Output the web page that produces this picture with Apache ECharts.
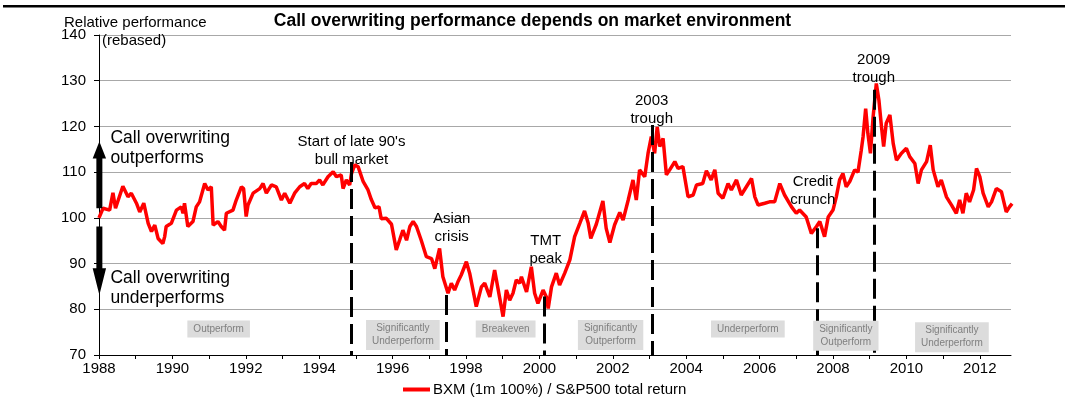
<!DOCTYPE html>
<html>
<head>
<meta charset="utf-8">
<script src="https://cdn.jsdelivr.net/npm/echarts@6/dist/echarts.min.js"></script>
<style>
html,body{margin:0;padding:0;background:#fff;}
#c{width:1065px;height:403px;}
</style>
</head>
<body>
<div id="c"></div>
<script>
// ---- data ----
const years = [
1988.00,1988.11,1988.29,1988.38,1988.45,1988.65,1988.79,1988.88,1989.02,1989.11,
1989.22,1989.34,1989.43,1989.52,1989.61,1989.74,1989.79,1989.83,1989.97,1990.11,
1990.24,1990.29,1990.33,1990.42,1990.56,1990.65,1990.74,1990.88,1990.97,1991.06,
1991.11,1991.24,1991.33,1991.42,1991.47,1991.65,1991.74,1991.88,1991.94,1992.01,
1992.06,1992.20,1992.38,1992.47,1992.56,1992.70,1992.83,1992.97,1993.06,1993.20,
1993.33,1993.47,1993.60,1993.69,1993.78,1993.92,1994.01,1994.10,1994.24,1994.38,
1994.47,1994.60,1994.65,1994.74,1994.83,1994.88,1994.97,1995.06,1995.20,1995.33,
1995.42,1995.52,1995.63,1995.69,1995.83,1995.97,1996.10,1996.19,1996.28,1996.38,
1996.47,1996.56,1996.65,1996.78,1996.92,1997.06,1997.15,1997.28,1997.37,1997.51,
1997.60,1997.69,1997.78,1997.87,1998.01,1998.10,1998.28,1998.42,1998.51,1998.65,
1998.78,1998.92,1999.01,1999.10,1999.19,1999.28,1999.37,1999.46,1999.51,1999.65,
1999.78,1999.87,1999.96,2000.10,2000.19,2000.24,2000.33,2000.46,2000.55,2000.69,
2000.83,2000.96,2001.10,2001.23,2001.33,2001.40,2001.55,2001.73,2001.82,2001.92,
2002.05,2002.19,2002.28,2002.42,2002.55,2002.64,2002.73,2002.87,2002.96,2003.05,
2003.14,2003.21,2003.28,2003.37,2003.46,2003.55,2003.69,2003.78,2003.91,2004.05,
2004.19,2004.28,2004.45,2004.55,2004.59,2004.68,2004.78,2004.87,2005.00,2005.14,
2005.23,2005.37,2005.50,2005.64,2005.78,2005.87,2005.96,2006.14,2006.27,2006.41,
2006.55,2006.68,2006.87,2007.00,2007.09,2007.27,2007.41,2007.55,2007.64,2007.77,
2007.87,2008.00,2008.09,2008.18,2008.27,2008.36,2008.46,2008.59,2008.68,2008.77,
2008.82,2008.89,2008.95,2009.02,2009.09,2009.18,2009.25,2009.32,2009.38,2009.45,
2009.55,2009.64,2009.73,2009.86,2010.00,2010.09,2010.23,2010.32,2010.41,2010.55,
2010.65,2010.73,2010.86,2010.95,2011.09,2011.23,2011.36,2011.45,2011.54,2011.63,
2011.72,2011.83,2011.91,2012.00,2012.09,2012.23,2012.32,2012.45,2012.59,2012.72,
2012.81,2012.88
];
const bxmRelative = [
100.0,102.1,101.7,105.5,102.1,106.9,104.6,105.4,103.2,101.3,
103.2,98.8,97.0,98.4,95.5,94.4,95.9,98.1,98.8,101.7,
102.4,101.0,103.2,98.1,99.2,102.4,103.5,107.5,106.1,106.8,
98.4,99.2,98.1,97.3,101.0,101.7,103.9,106.8,106.4,100.3,
102.8,105.4,106.4,107.5,105.4,107.2,106.8,103.9,105.4,103.2,
105.4,106.8,107.5,106.4,107.5,107.5,108.3,107.2,109.0,110.1,
109.0,109.4,106.4,108.3,107.2,109.7,111.6,111.2,107.9,106.1,
104.0,102.2,102.4,99.8,99.9,98.6,93.0,95.1,97.3,95.1,
98.1,99.2,98.1,95.1,91.5,91.1,88.9,93.3,87.1,83.5,
85.7,84.2,86.0,87.5,90.4,87.9,80.6,84.9,85.7,82.7,
88.6,82.4,78.4,84.2,82.0,83.5,86.4,85.7,87.1,83.8,
89.3,83.5,81.3,84.2,82.7,80.2,84.9,87.9,85.3,87.9,
90.8,95.9,98.8,101.5,98.8,95.5,98.6,103.7,97.7,94.6,
98.5,101.2,99.5,103.9,108.3,103.9,110.5,109.0,114.1,117.8,
114.1,119.9,115.6,117.4,109.4,110.5,112.3,110.8,111.2,104.6,
105.0,107.2,107.5,110.3,109.7,108.3,110.5,105.4,104.3,107.5,
106.1,108.3,105.0,106.8,108.6,104.6,102.8,103.2,103.5,103.5,
107.5,105.0,102.4,101.0,101.7,100.2,96.6,98.1,99.2,95.9,
100.2,101.7,104.6,108.3,109.7,106.8,108.0,110.5,110.0,114.8,
117.8,123.9,118.5,114.1,121.8,129.4,125.8,120.0,115.6,120.7,
122.5,116.3,112.6,114.1,115.2,113.4,111.9,107.5,110.5,112.3,
115.9,110.5,106.8,108.3,104.6,102.8,101.0,103.9,101.0,105.4,
103.5,106.1,110.8,109.0,105.4,102.4,103.5,106.4,105.7,101.3,
102.4,103.1
];
const yTicks = [70, 80, 90, 100, 110, 120, 130, 140];

// event markers: [year, top of dashed line]
const eventYears = [1994.88, 1997.45, 2000.14, 2003.08, 2007.56, 2009.12];
const eventTops  = [112.2, 83.1, 82.8, 120.3, 97.7, 128.0];

// event annotations
const eventLabels = ["Start of late 90's\nbull market", "Asian\ncrisis", "TMT\npeak", "2003\ntrough", "Credit\ncrunch", "2009\ntrough"];
const eventLabelX = [1994.88, 1997.61, 2000.17, 2003.06, 2007.45, 2009.11];
const eventLabelY = [114.7, 97.8, 93.0, 123.6, 105.9, 132.6];

// regime boxes
const regimeLabels = ["Outperform", "Significantly\nUnderperform", "Breakeven", "Significantly\nOutperform", "Underperform", "Significantly\nOutperform", "Significantly\nUnderperform"];
const regimeX = [1991.26, 1996.28, 1999.08, 2001.94, 2005.68, 2008.35, 2011.24];
const regimeY = [75.7, 74.4, 75.7, 74.4, 75.7, 74.2, 73.9];

// direction arrows (x, shaft start, head base, tip)
const arrowX = 1988.01;
const upArrow = [102.1, 113.0, 116.7];
const downArrow = [98.1, 89.0, 83.1];

// ---- chart ----
const FONT = 'Liberation Sans, Arial, sans-serif';
const chart = echarts.init(document.getElementById('c'), null, {renderer: 'canvas'});

const lineData = years.map((y, i) => [y, bxmRelative[i]]);

const eventLines = eventYears.map((x, i) => [
  {coord: [x, eventTops[i]]},
  {coord: [x, 70]}
]);

const annPoints = eventLabels.map((t, i) => ({
  coord: [eventLabelX[i], eventLabelY[i]],
  label: {formatter: t}
}));

const regimePoints = regimeLabels.map((t, i) => ({
  coord: [regimeX[i], regimeY[i]],
  label: {formatter: t}
}));

chart.setOption({
  animation: false,
  textStyle: {fontFamily: FONT},
  title: [
    {text: 'Call overwriting performance depends on market environment', left: 'center', top: 12, padding: 0,
     textStyle: {fontFamily: FONT, fontSize: 17.5, fontWeight: 'bold', color: '#000'}},
    {text: 'Relative performance', left: 64, top: 15, padding: 0,
     textStyle: {fontFamily: FONT, fontSize: 15, fontWeight: 'normal', color: '#000'}},
    {text: '(rebased)', left: 102, top: 33, padding: 0,
     textStyle: {fontFamily: FONT, fontSize: 15, fontWeight: 'normal', color: '#000'}}
  ],
  grid: {left: 99, right: 54, top: 35, bottom: 48, containLabel: false},
  legend: {
    data: ['BXM (1m 100%) / S&P500 total return'],
    left: 403, top: 382, padding: 0, itemWidth: 27, itemHeight: 4, itemGap: 4, icon: 'rect',
    textStyle: {fontFamily: FONT, fontSize: 15, color: '#000', padding: [0, 0, 0, -2]}
  },
  xAxis: {
    type: 'value', min: 1988, max: 2012.85, interval: 1,
    axisLine: {show: true, lineStyle: {color: '#000', width: 1}},
    axisTick: {show: true, length: 4, lineStyle: {color: '#000'}},
    axisLabel: {
      fontFamily: FONT, fontSize: 15, color: '#000', margin: 6, showMaxLabel: false,
      formatter: v => (Math.round(v) % 2 === 0 ? String(Math.round(v)) : '')
    },
    splitLine: {show: false}
  },
  yAxis: {
    type: 'value', min: yTicks[0], max: yTicks[yTicks.length - 1], interval: 10,
    axisLine: {show: true, lineStyle: {color: '#000', width: 1}},
    axisTick: {show: true, length: 5, lineStyle: {color: '#000'}},
    axisLabel: {fontFamily: FONT, fontSize: 15, color: '#000', margin: 13},
    splitLine: {show: true, lineStyle: {color: '#a8a8a8', width: 1}}
  },
  series: [
    {
      name: 'BXM (1m 100%) / S&P500 total return',
      type: 'line', data: lineData, symbol: 'none', z: 3,
      lineStyle: {color: '#ff0000', width: 3.5},
      itemStyle: {color: '#ff0000'},
      markLine: {
        silent: true, symbol: 'none', z: 4,
        label: {show: false},
        lineStyle: {color: '#000', width: 3, type: [20, 7]},
        data: eventLines
      }
    },
    {
      name: 'annotations', type: 'line', data: [], z: 5,
      markPoint: {
        silent: true, symbol: 'circle', symbolSize: 0,
        label: {show: true, position: 'inside', color: '#000', fontFamily: FONT, fontSize: 15, lineHeight: 18, align: 'center'},
        data: annPoints
      }
    },
    {
      name: 'regimes', type: 'line', data: [], z: 5,
      markPoint: {
        silent: true, symbol: 'circle', symbolSize: 0,
        label: {show: true, position: 'inside', color: '#7f7f7f', fontFamily: FONT, fontSize: 10, lineHeight: 13,
                align: 'center', backgroundColor: '#dcdcdc', padding: [2, 6]},
        data: regimePoints
      }
    },
    {
      name: 'arrowText', type: 'line', data: [], z: 6,
      markPoint: {
        silent: true, symbol: 'circle', symbolSize: 0,
        label: {show: true, position: 'right', distance: 0, color: '#000', fontFamily: FONT, fontSize: 17.5, lineHeight: 20, align: 'left'},
        data: [
          {coord: [1988.31, 115.3], label: {formatter: 'Call overwriting\noutperforms'}},
          {coord: [1988.31, 84.65], label: {formatter: 'Call overwriting\nunderperforms'}}
        ]
      }
    }
  ]
});

function drawExtras() {
  const p = v => chart.convertToPixel({gridIndex: 0}, [arrowX, v]);
  const arrowShapes = [];
  [upArrow, downArrow].forEach(a => {
    const s = p(a[0]), b = p(a[1]), t = p(a[2]);
    const x = s[0];
    arrowShapes.push({
      type: 'polygon', z: 10,
      shape: {points: [[x - 3, s[1]], [x + 3, s[1]], [x + 3, b[1]], [x + 6.7, b[1]], [x, t[1]], [x - 6.7, b[1]], [x - 3, b[1]]]},
      style: {fill: '#000'}
    });
  });
  chart.setOption({
    graphic: [
      {type: 'rect', shape: {x: 3, y: 5, width: 1062, height: 2.5}, style: {fill: '#000'}}
    ].concat(arrowShapes)
  });
}
drawExtras();
</script>
</body>
</html>
